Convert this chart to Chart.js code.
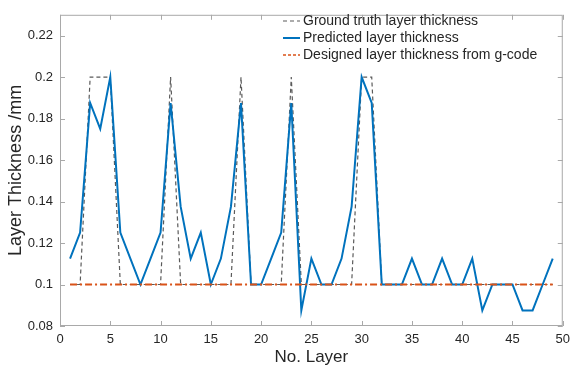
<!DOCTYPE html>
<html>
<head>
<meta charset="utf-8">
<script src="https://cdn.jsdelivr.net/npm/chart.js@4/dist/chart.umd.min.js"></script>
<style>
  body { margin: 0; background: #fff; }
  #wrap { width: 576px; height: 371px; }
</style>
</head>
<body>
<div id="wrap"><canvas id="chart" width="576" height="371"></canvas></div>
<script>
// Layer numbers
const layers = [1, 2, 3, 4, 5, 6, 7, 8, 9, 10, 11, 12, 13, 14, 15, 16, 17, 18, 19, 20,
  21, 22, 23, 24, 25, 26, 27, 28, 29, 30, 31, 32, 33, 34, 35, 36, 37, 38, 39, 40,
  41, 42, 43, 44, 45, 46, 47, 48, 49];

// Ground truth thickness (mm)
const groundTruth = [0.1, 0.1, 0.2, 0.2, 0.2, 0.1, 0.1, 0.1, 0.1, 0.1,
  0.2, 0.1, 0.1, 0.1, 0.1, 0.1, 0.1, 0.2, 0.1, 0.1,
  0.1, 0.1, 0.2, 0.1, 0.1, 0.1, 0.1, 0.1, 0.1, 0.2,
  0.2, 0.1, 0.1, 0.1, 0.1, 0.1, 0.1, 0.1, 0.1, 0.1,
  0.1, 0.1, 0.1, 0.1, 0.1, 0.1, 0.1, 0.1, 0.1];

// Predicted thickness (mm)
const predicted = [0.1125, 0.125, 0.1875, 0.175, 0.2, 0.125, 0.1125, 0.1, 0.1125, 0.125,
  0.1875, 0.1375, 0.1125, 0.125, 0.1, 0.1125, 0.1375, 0.1875, 0.1, 0.1,
  0.1125, 0.125, 0.1875, 0.0875, 0.1125, 0.1, 0.1, 0.1125, 0.1375, 0.2,
  0.1875, 0.1, 0.1, 0.1, 0.1125, 0.1, 0.1, 0.1125, 0.1, 0.1,
  0.1125, 0.0875, 0.1, 0.1, 0.1, 0.0875, 0.0875, 0.1, 0.1125];

// Designed thickness from g-code (mm)
const designed = [0.1, 0.1, 0.1, 0.1, 0.1, 0.1, 0.1, 0.1, 0.1, 0.1,
  0.1, 0.1, 0.1, 0.1, 0.1, 0.1, 0.1, 0.1, 0.1, 0.1,
  0.1, 0.1, 0.1, 0.1, 0.1, 0.1, 0.1, 0.1, 0.1, 0.1,
  0.1, 0.1, 0.1, 0.1, 0.1, 0.1, 0.1, 0.1, 0.1, 0.1,
  0.1, 0.1, 0.1, 0.1, 0.1, 0.1, 0.1, 0.1, 0.1];

const xTicks = [0, 5, 10, 15, 20, 25, 30, 35, 40, 45, 50];
const yTicks = [0.08, 0.1, 0.12, 0.14, 0.16, 0.18, 0.2, 0.22];

const seriesNames = ['Ground truth layer thickness', 'Predicted layer thickness', 'Designed layer thickness from g-code'];

const textColor = '#262626';
const axisColor = '#a9a9a9';
const fontFamily = '"Liberation Sans", Arial, Helvetica, sans-serif';

function toPoints(ys) {
  return layers.map((x, i) => ({ x: x, y: ys[i] }));
}

// box around the axes with ticks pointing inward
const boxPlugin = {
  id: 'box',
  afterDatasetsDraw(chart) {
    const { ctx, chartArea: a, scales } = chart;
    ctx.save();
    ctx.strokeStyle = axisColor;
    ctx.lineWidth = 1;
    ctx.strokeRect(a.left + 0.5, a.top + 0.5, a.right - a.left - 1, a.bottom - a.top - 1);
    ctx.beginPath();
    xTicks.forEach(t => {
      const px = Math.round(scales.x.getPixelForValue(t)) + 0.5;
      ctx.moveTo(px, a.bottom); ctx.lineTo(px, a.bottom - 5);
      ctx.moveTo(px, a.top); ctx.lineTo(px, a.top + 5);
    });
    yTicks.forEach(t => {
      const py = Math.round(scales.y.getPixelForValue(t)) + 0.5;
      ctx.moveTo(a.left, py); ctx.lineTo(a.left + 5, py);
      ctx.moveTo(a.right, py); ctx.lineTo(a.right - 5, py);
    });
    ctx.stroke();
    ctx.restore();
  }
};

// legend in the upper right, no frame
const legendPlugin = {
  id: 'customLegend',
  afterDraw(chart) {
    const { ctx } = chart;
    const styles = [
      { color: '#5a5a5a', width: 1.2, dash: [4, 3] },
      { color: '#0072BD', width: 2, dash: [] },
      { color: '#D95319', width: 1.5, dash: [3, 2] }
    ];
    ctx.save();
    ctx.font = '14px ' + fontFamily;
    ctx.textBaseline = 'middle';
    seriesNames.forEach((name, i) => {
      const y = 21 + i * 17;
      const s = styles[i];
      ctx.strokeStyle = s.color;
      ctx.lineWidth = s.width;
      ctx.setLineDash(s.dash);
      ctx.beginPath();
      ctx.moveTo(283, y);
      ctx.lineTo(300, y);
      ctx.stroke();
      ctx.setLineDash([]);
      ctx.fillStyle = textColor;
      ctx.fillText(name, 303, y);
    });
    ctx.restore();
  }
};

const ctx = document.getElementById('chart').getContext('2d');
new Chart(ctx, {
  type: 'line',
  data: {
    datasets: [
      {
        label: seriesNames[2],
        data: toPoints(designed),
        borderColor: '#D95319',
        borderWidth: 2,
        borderDash: [7, 3, 2, 3],
        pointRadius: 0,
        tension: 0,
        fill: false
      },
      {
        label: seriesNames[1],
        data: toPoints(predicted),
        borderColor: '#0072BD',
        borderWidth: 2,
        pointRadius: 0,
        tension: 0,
        fill: false
      },
      {
        label: seriesNames[0],
        data: toPoints(groundTruth),
        borderColor: '#5a5a5a',
        borderWidth: 1.2,
        borderDash: [4, 3],
        pointRadius: 0,
        tension: 0,
        fill: false
      }
    ]
  },
  options: {
    responsive: false,
    animation: false,
    layout: { padding: { left: 0, right: 8, top: 6, bottom: 0 } },
    plugins: {
      legend: { display: false },
      tooltip: { enabled: false }
    },
    scales: {
      x: {
        type: 'linear',
        min: 0,
        max: 50,
        afterBuildTicks: scale => { scale.ticks = xTicks.map(v => ({ value: v })); },
        afterFit: scale => { scale.height = 45; },
        grid: { display: false, drawTicks: false },
        border: { display: false },
        ticks: {
          color: textColor,
          font: { family: fontFamily, size: 13 },
          padding: 6,
          maxRotation: 0,
          callback: v => String(v)
        },
        title: {
          display: true,
          text: 'No. Layer',
          color: textColor,
          font: { family: fontFamily, size: 17 },
          padding: { top: 0, bottom: 3 }
        }
      },
      y: {
        min: 0.08,
        max: 0.23,
        afterBuildTicks: scale => { scale.ticks = yTicks.map(v => ({ value: v })); },
        afterFit: scale => { scale.width = 60; },
        grid: { display: false, drawTicks: false },
        border: { display: false },
        ticks: {
          color: textColor,
          font: { family: fontFamily, size: 13 },
          padding: 7,
          callback: v => String(+v.toFixed(2))
        },
        title: {
          display: true,
          text: 'Layer Thickness /mm',
          color: textColor,
          font: { family: fontFamily, size: 18 },
          padding: { top: 5, bottom: 0 }
        }
      }
    }
  },
  plugins: [boxPlugin, legendPlugin]
});
</script>
</body>
</html>
